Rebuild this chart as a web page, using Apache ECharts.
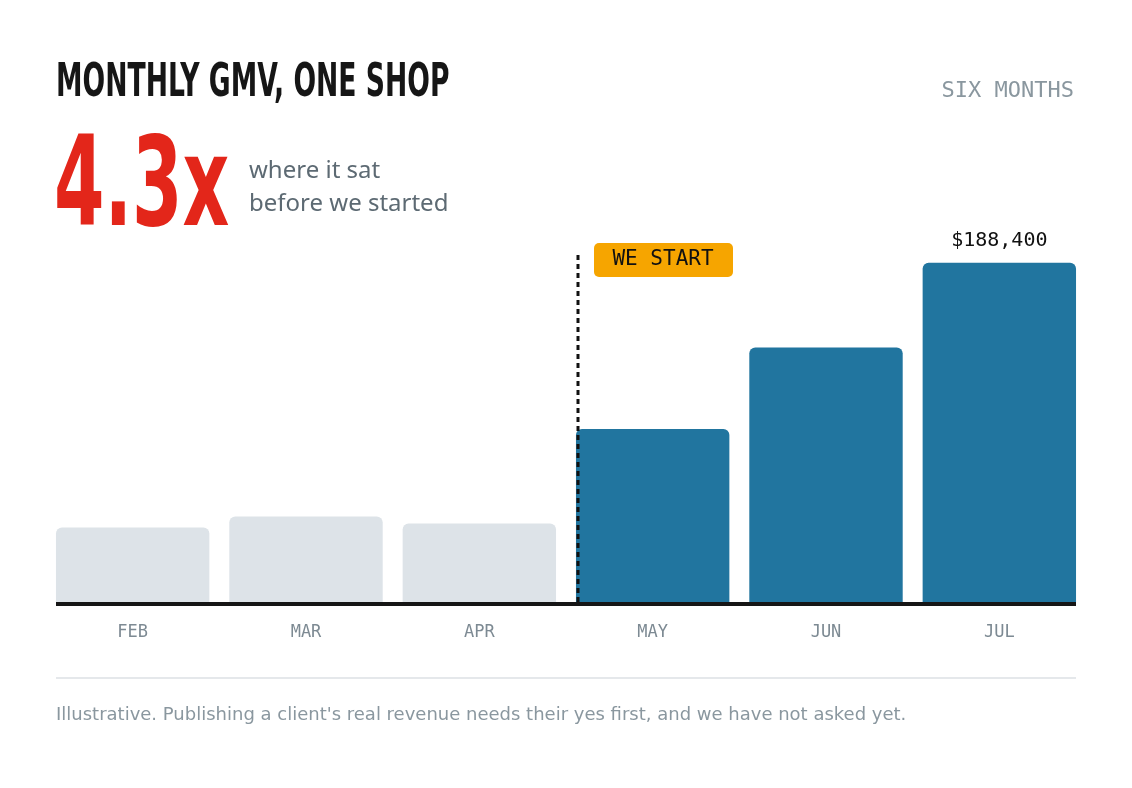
<!DOCTYPE html>
<html><head><meta charset="utf-8">
<script src="https://cdn.jsdelivr.net/npm/echarts@6/dist/echarts.min.js"></script>
<style>html,body{margin:0;background:#fff}#c{width:1132px;height:788px}</style>
</head><body><div id="c"></div>
<script>
const categories = ['FEB','MAR','APR','MAY','JUN','JUL'];
const gmv = [41400, 47500, 43600, 96100, 141400, 188400];
const startIndex = 3;
const gray = '#dde3e8', blue = '#21759f';
const cond = '"DejaVu Sans Condensed","DejaVu Sans",sans-serif';
const mono = '"DejaVu Sans Mono",monospace';
const chart = echarts.init(document.getElementById('c'));
chart.setOption({
  animation:false,
  grid:{left:46,right:46,top:230,bottom:186},
  xAxis:{type:'category',data:categories,axisLine:{show:false},axisTick:{show:false},
    axisLabel:{margin:22,color:'#7d8a93',fontFamily:mono,fontSize:17}},
  yAxis:{type:'value',min:0,max:206600,show:false,splitLine:{show:false}},
  series:[{type:'bar',barCategoryGap:'11.5%',
    data:gmv.map((v,i)=>({value:v,itemStyle:{color:i<startIndex?gray:blue,borderRadius:[6,6,0,0]},
      label:{show:i===gmv.length-1,position:'top',distance:12,formatter:p=>'$'+p.value.toLocaleString('en-US'),
        fontFamily:mono,fontSize:20,color:'#111'}}))}],
  graphic:[
    {type:'text',x:56,y:60,scaleX:0.63,style:{text:'MONTHLY GMV, ONE SHOP',font:'bold 47px '+cond,fill:'#161616'}},
    {type:'text',right:58,top:80,style:{text:'SIX MONTHS',font:'22px '+mono,fill:'#8a979f'}},
    {type:'text',x:54,y:131,scaleX:0.65,style:{text:'4.3x',font:'bold 124px '+cond,fill:'#e3261a'}},
    {type:'text',left:249,top:155,style:{text:'where it sat\nbefore we started',font:'24px "Noto Sans",sans-serif',lineHeight:33,fill:'#5d6a73'}},
    {type:'line',z:10,shape:{x1:578,y1:255,x2:578,y2:604},style:{stroke:'#111',lineWidth:3,lineDash:[5,4]}},
    {type:'rect',shape:{x:594,y:243,width:139,height:34,r:5},style:{fill:'#f6a500'}},
    {type:'text',x:663,y:260,style:{text:'WE START',font:'21px '+mono,fill:'#111',align:'center',verticalAlign:'middle'}},
    {type:'line',z:10,shape:{x1:56,y1:604,x2:1076,y2:604},style:{stroke:'#161616',lineWidth:4}},
    {type:'line',shape:{x1:56,y1:678,x2:1076,y2:678},style:{stroke:'#dde1e4',lineWidth:1.5}},
    {type:'text',left:56,top:706,style:{text:"Illustrative. Publishing a client's real revenue needs their yes first, and we have not asked yet.",font:'18px "DejaVu Sans",sans-serif',fill:'#8a979f'}}
  ]
});
</script></body></html>
